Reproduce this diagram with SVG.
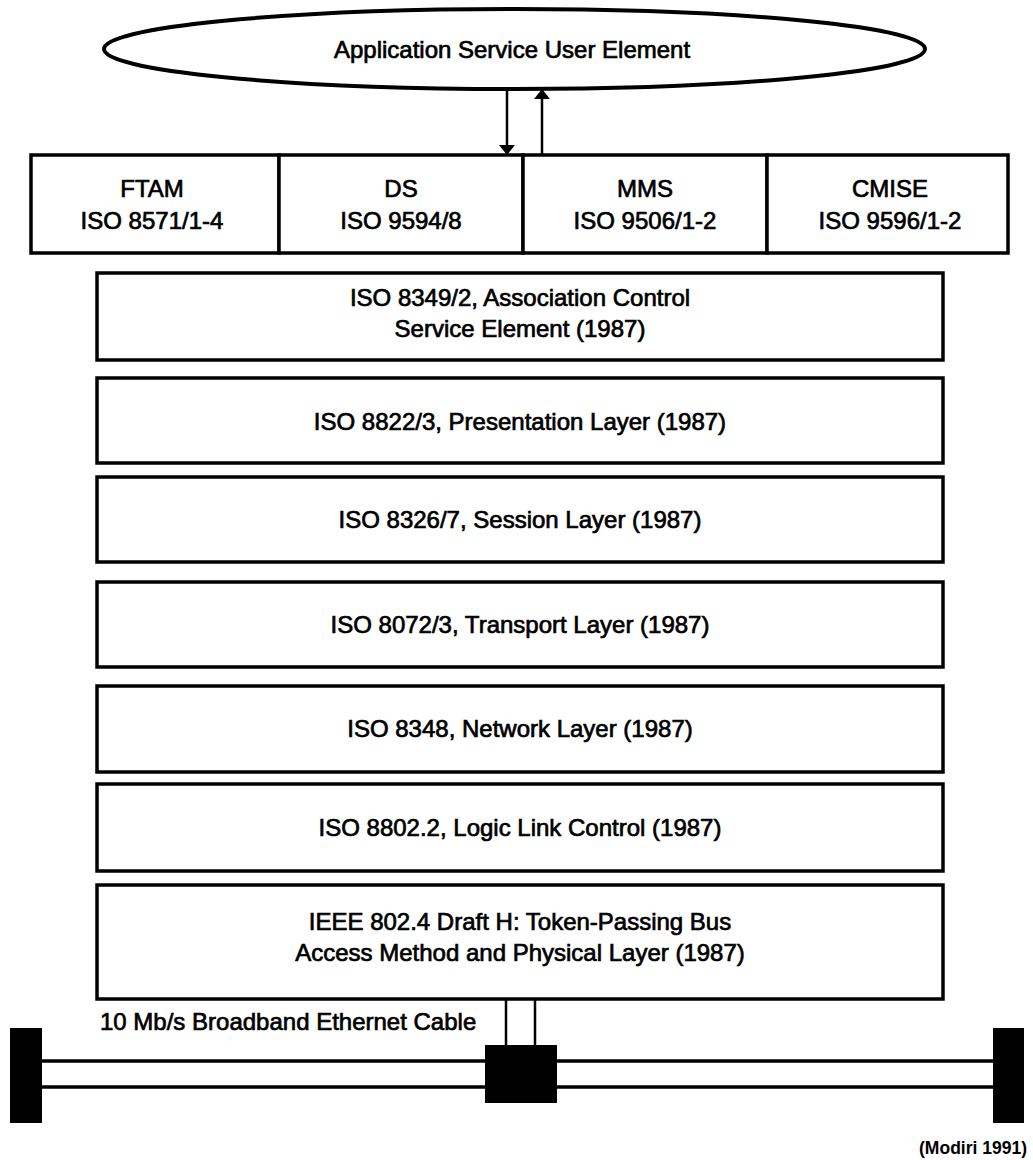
<svg xmlns="http://www.w3.org/2000/svg" width="1033" height="1160" viewBox="0 0 1033 1160">
  <style>
    .box { fill: #fff; stroke: #000; stroke-width: 3.5; }
    .lbl { font-family: "Liberation Sans", Arial, sans-serif; font-size: 24px; fill: #000; stroke: #000; stroke-width: 0.7; text-anchor: middle; }
    .wire { stroke: #000; stroke-width: 3.5; fill: none; }
    .thin { stroke: #000; stroke-width: 2.5; fill: none; }
    .solid { fill: #000; stroke: none; }
  </style>
  <defs>
    <marker id="head" viewBox="0 0 10 16" refX="10" refY="8" markerWidth="10" markerHeight="16" markerUnits="userSpaceOnUse" orient="auto">
      <path d="M0,0 L10,8 L0,16 Z" fill="#000"/>
    </marker>
  </defs>
  <rect width="1033" height="1160" fill="#fff"/>

  <!-- application element -->
  <g id="ase">
    <ellipse cx="514.5" cy="49" rx="410.5" ry="40" fill="#fff" stroke="#000" stroke-width="4"/>
    <text class="lbl" x="512" y="58">Application Service User Element</text>
  </g>

  <!-- application service elements -->
  <g id="ftam">
    <rect class="box" x="31" y="155" width="248" height="98"/>
    <text class="lbl" x="152" y="197">FTAM</text>
    <text class="lbl" x="152" y="229">ISO 8571/1-4</text>
  </g>
  <g id="ds">
    <rect class="box" x="279" y="155" width="244" height="98"/>
    <text class="lbl" x="401" y="197">DS</text>
    <text class="lbl" x="401" y="229">ISO 9594/8</text>
  </g>
  <g id="mms">
    <rect class="box" x="523" y="155" width="244" height="98"/>
    <text class="lbl" x="645" y="197">MMS</text>
    <text class="lbl" x="645" y="229">ISO 9506/1-2</text>
  </g>
  <g id="cmise">
    <rect class="box" x="767" y="155" width="241" height="98"/>
    <text class="lbl" x="890" y="197">CMISE</text>
    <text class="lbl" x="890" y="229">ISO 9596/1-2</text>
  </g>

  <!-- protocol layers -->
  <g id="acse">
    <rect class="box" x="97" y="273" width="846" height="87"/>
    <text class="lbl" x="520" y="306">ISO 8349/2, Association Control</text>
    <text class="lbl" x="520" y="337">Service Element (1987)</text>
  </g>
  <g id="presentation">
    <rect class="box" x="97" y="378" width="846" height="85"/>
    <text class="lbl" x="520" y="430">ISO 8822/3, Presentation Layer (1987)</text>
  </g>
  <g id="session">
    <rect class="box" x="97" y="477" width="846" height="85"/>
    <text class="lbl" x="520" y="528">ISO 8326/7, Session Layer (1987)</text>
  </g>
  <g id="transport">
    <rect class="box" x="97" y="582" width="846" height="85"/>
    <text class="lbl" x="520" y="633">ISO 8072/3, Transport Layer (1987)</text>
  </g>
  <g id="network">
    <rect class="box" x="97" y="686" width="846" height="86"/>
    <text class="lbl" x="520" y="737">ISO 8348, Network Layer (1987)</text>
  </g>
  <g id="llc">
    <rect class="box" x="97" y="784" width="846" height="87"/>
    <text class="lbl" x="520" y="836">ISO 8802.2, Logic Link Control (1987)</text>
  </g>
  <g id="mac-phy">
    <rect class="box" x="97" y="885" width="846" height="114"/>
    <text class="lbl" x="520" y="930">IEEE 802.4 Draft H: Token-Passing Bus</text>
    <text class="lbl" x="520" y="961">Access Method and Physical Layer (1987)</text>
  </g>

  <!-- broadband cable -->
  <g id="cable">
    <line class="wire" x1="42" y1="1061" x2="993" y2="1061"/>
    <line class="wire" x1="42" y1="1087" x2="993" y2="1087"/>
    <rect class="solid" x="10" y="1028" width="32" height="95"/>
    <rect class="solid" x="993" y="1028" width="31" height="95"/>
    <text class="lbl" x="100" y="1030" style="text-anchor:start">10 Mb/s Broadband Ethernet Cable</text>
  </g>
  <g id="tap">
    <rect class="solid" x="485" y="1045" width="72" height="58"/>
  </g>

  <!-- connectors -->
  <g id="connectors">
    <line class="thin" x1="507" y1="89" x2="507" y2="155" marker-end="url(#head)"/>
    <line class="thin" x1="542" y1="155" x2="542" y2="89" marker-end="url(#head)"/>
    <line class="thin" x1="506" y1="999" x2="506" y2="1045"/>
    <line class="thin" x1="535" y1="999" x2="535" y2="1045"/>
  </g>

  <text x="1027" y="1154" style="font-family:'Liberation Sans', Arial, sans-serif; font-size:17.5px; font-weight:bold; text-anchor:end">(Modiri 1991)</text>
</svg>
